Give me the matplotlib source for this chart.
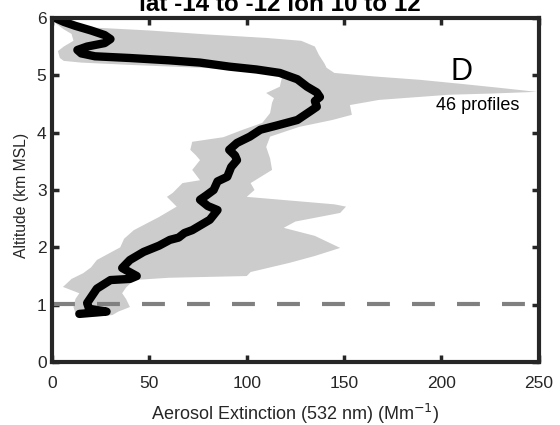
import matplotlib
matplotlib.use("Agg")
import matplotlib.pyplot as plt

plt.rcParams["font.family"] = ["Liberation Sans", "DejaVu Sans"]

# mean extinction profile (Mm-1) vs altitude (km)
mean_ext = [1.5, 6, 12, 20, 27, 30, 27, 18, 13, 15, 22, 40, 60, 76, 91, 105, 117,
            126, 131, 136, 137.6, 135, 136, 133, 126, 115, 107, 101.6, 95, 91, 94,
            95, 92, 90, 85, 83, 79, 76, 80, 85, 81, 72, 68, 65, 60.5, 55, 47, 40,
            36, 43.5, 40, 30, 23, 21, 18, 19, 28, 14]
mean_alt = [6.0, 5.93, 5.86, 5.78, 5.7, 5.63, 5.56, 5.5, 5.44, 5.38, 5.33, 5.3,
            5.26, 5.22, 5.15, 5.1, 5.04, 4.93, 4.8, 4.7, 4.62, 4.55, 4.45, 4.38,
            4.22, 4.12, 4.05, 3.93, 3.82, 3.70, 3.6, 3.52, 3.4, 3.23, 3.15, 3.0,
            2.9, 2.83, 2.72, 2.65, 2.48, 2.3, 2.25, 2.17, 2.13, 2.03, 1.92, 1.78,
            1.64, 1.5, 1.45, 1.43, 1.28, 1.18, 1.03, 0.93, 0.88, 0.84]

# spread envelope: right (upper) edge, top to bottom
hi_alt = [6.0, 5.9, 5.84, 5.78, 5.71, 5.65, 5.6, 5.5, 5.36, 5.2, 5.13, 5.04,
          4.98, 4.92, 4.85, 4.78, 4.71, 4.68, 4.66, 4.6, 4.57, 4.48, 4.31, 4.22,
          4.10, 3.93, 3.75, 3.55, 3.35, 3.12, 3.0, 2.88, 2.75, 2.71, 2.6, 2.45,
          2.34, 2.2, 1.99, 1.85, 1.73, 1.57, 1.50, 1.47, 1.43, 1.3, 1.2, 1.1,
          0.96, 0.88, 0.82, 0.79]
hi_ext = [3, 8, 16, 50, 80, 110, 128, 135, 137, 140, 141, 145, 165, 189, 210,
          230, 249, 225, 204, 180, 168, 153, 154, 144, 127, 112, 110, 112, 113,
          102, 104, 100, 145, 151, 148, 125, 119, 135, 148, 135, 122, 102, 100,
          60, 42, 38, 36, 38, 40, 34, 31, 20]

# left (lower) edge, top to bottom
lo_alt = [6.0, 5.9, 5.8, 5.72, 5.6, 5.5, 5.42, 5.3, 5.25, 5.22, 5.18, 5.13,
          5.08, 5.05, 4.95, 4.8, 4.69, 4.6, 4.52, 4.34, 4.17, 4.05, 3.92, 3.84,
          3.70, 3.6, 3.52, 3.35, 3.17, 3.12, 2.95, 2.88, 2.71, 2.53, 2.30, 2.15,
          2.0, 1.78, 1.65, 1.55, 1.45, 1.31, 1.2, 1.1, 0.96, 0.85, 0.79]
lo_ext = [0.5, 2, 6, 10, 11, 6, 3, 4, 6, 15, 40, 76, 105, 113, 118, 117, 110,
          114, 113, 112, 108, 98, 88, 72, 71, 74, 76, 72, 76, 67, 62, 59, 64, 55,
          42, 37, 35, 23, 20, 16, 10, 5.6, 14, 12, 11, 12, 14]

boundary_alt = 1.02
n_profiles = 46

fig = plt.figure(figsize=(5.6, 4.25), dpi=100)
ax = fig.add_axes([0.093, 0.148, 0.869, 0.81])

ax.fill(hi_ext + lo_ext[::-1], hi_alt + lo_alt[::-1], color="#cccccc", lw=0)
ax.plot(mean_ext, mean_alt, color="black", lw=6, solid_capstyle="round",
        solid_joinstyle="round")
ax.plot([0, 250], [boundary_alt, boundary_alt], color="#808080", lw=3,
        dashes=(5.5, 5.3))

ax.text(210.5, 5.06, "D", fontsize=22, ha="center", va="center")
ax.text(218.5, 4.48, f"{n_profiles} profiles", fontsize=13, ha="center", va="center")

ax.set_xlim(0, 250)
ax.set_ylim(0, 6)
ax.set_xticks([0, 50, 100, 150, 200, 250])
ax.set_yticks([0, 1, 2, 3, 4, 5, 6])
ax.tick_params(direction="in", top=True, right=True, length=5, width=2.5,
               color="#262626", labelsize=12.5, labelcolor="#262626", pad=4)
ax.tick_params(axis="x", pad=10)
for s in ax.spines.values():
    s.set_linewidth(3)
    s.set_color("#262626")
ax.set_xlabel("Aerosol Extinction (532 nm) (Mm$^{-1}$)", fontsize=13, color="#262626")
ax.set_ylabel("Altitude (km MSL)", fontsize=11.3, color="#262626")
ax.xaxis.set_label_coords(0.5, -0.115)
ax.yaxis.set_label_coords(-0.047, 0.483)

fig.text(0.5, 1 - 11 / 425, "lat -14 to -12 lon 10 to 12", ha="center",
         va="baseline", fontsize=17.5, fontweight="bold")

fig.savefig("out.png", dpi=100)
